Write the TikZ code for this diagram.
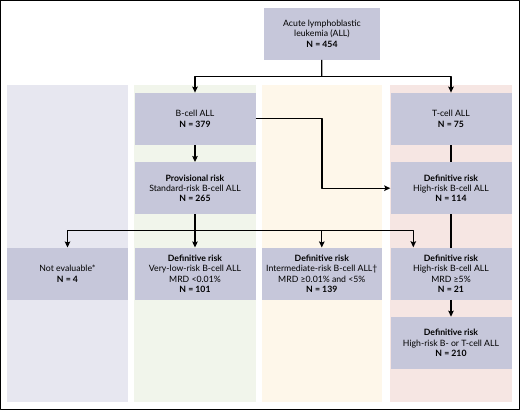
\documentclass[tikz,border=0pt]{standalone}
\usepackage{fontspec}
\setmainfont{Lato}
\usetikzlibrary{arrows.meta}
\definecolor{boxfill}{HTML}{C6C7DA}
\definecolor{laneA}{HTML}{E7E7F0}
\definecolor{laneB}{HTML}{F1F5EB}
\definecolor{laneC}{HTML}{FEF7EA}
\definecolor{laneD}{HTML}{F6E6E3}
\tikzset{
	riskbox/.style={fill=boxfill, minimum width=121pt, minimum height=52pt, inner sep=1pt, align=center, font=\fontsize{8.7}{10.2}\selectfont},
	flow/.style={line width=1.2pt, black}
}
\begin{document}
\begin{tikzpicture}[x=1pt, y=-1pt, line join=round, >={Stealth[length=6pt,width=5.5pt,inset=1pt]}]
			\useasboundingbox (0,0) rectangle (520,410);
			\draw[line width=1pt] (0.5,0.5) rectangle (519.5,409.5);
			\fill[laneA] (7.3,85) rectangle (127.7,402);
			\fill[laneB] (134,85) rectangle (256,402);
			\fill[laneC] (261.7,85) rectangle (382,402);
			\fill[laneD] (390,85) rectangle (512,402);
			\path
			(322,33.7) node[riskbox, minimum width=116pt] (all) {Acute lymphoblastic\\leukemia (ALL)\\\textbf{N = 454}}
			(195,118.8) node[riskbox] (bcell) {B-cell ALL\\\textbf{N = 379}}
			(451,118.8) node[riskbox] (tcell) {T-cell ALL\\\textbf{N = 75}}
			(195,188.2) node[riskbox] (prov) {\textbf{Provisional risk}\\Standard-risk B-cell ALL\\\textbf{N = 265}}
			(451,188.2) node[riskbox] (hrb) {\textbf{Definitive risk}\\High-risk B-cell ALL\\\textbf{N = 114}}
			(67.5,273.7) node[riskbox, minimum width=120.4pt] (noteval) {Not evaluable*\\\textbf{N = 4}}
			(195,273.7) node[riskbox] (vlr) {\textbf{Definitive risk}\\Very-low-risk B-cell ALL\\MRD <0.01\%\\\textbf{N = 101}}
			(321.8,273.7) node[riskbox, minimum width=120.3pt] (ir) {\textbf{Definitive risk}\\Intermediate-risk B-cell ALL\textdagger\\MRD ≥0.01\% and <5\%\\\textbf{N = 139}}
			(451,273.7) node[riskbox] (mrd) {\textbf{Definitive risk}\\High-risk B-cell ALL\\MRD ≥5\%\\\textbf{N = 21}}
			(451,342.9) node[riskbox] (hrbt) {\textbf{Definitive risk}\\High-risk B- or T-cell ALL\\\textbf{N = 210}}
			;
			\coordinate (split1) at (321.7,76.7);
			\coordinate (split2) at (195,230.7);
			\coordinate (mrdin) at (413.3,247.3);
			\draw[flow] (all) -- (split1);
			\draw[flow,->] (split1) -| (bcell);
			\draw[flow,->] (split1) -| (tcell);
			\draw[flow,->] (bcell) -- (prov);
			\draw[flow,->] (bcell.east) -| (all |- hrb) -- (hrb.west);
			\draw[flow] (tcell) -- (hrb);
			\draw[flow] (hrb) -- (mrd);
			\draw[flow] (prov) -- (split2);
			\draw[flow,->] (split2) -| (noteval);
			\draw[flow,->] (split2) -- (vlr);
			\draw[flow,->] (split2) -| (ir);
			\draw[flow,->] (split2) -| (mrdin);
			\draw[flow,->] (mrd) -- (hrbt);
	\end{tikzpicture}
\end{document}
